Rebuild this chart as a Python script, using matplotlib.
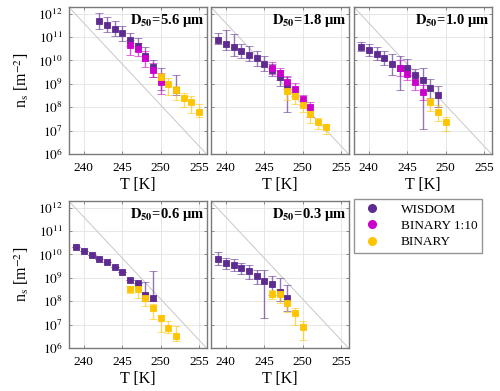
import matplotlib
matplotlib.use("Agg")
import matplotlib.pyplot as plt
import numpy as np
from matplotlib.lines import Line2D

plt.rcParams['font.family'] = ['Liberation Serif', 'DejaVu Serif']
plt.rcParams['mathtext.fontset'] = 'stix'

# ---------------- data ----------------
series_names = ["WISDOM", "BINARY 1:10", "BINARY"]
panel_titles = ["5.6", "1.8", "1.0", "0.6", "0.3"]
x_ticks = [240, 245, 250, 255]
y_ticks = [1e6, 1e7, 1e8, 1e9, 1e10, 1e11, 1e12]
y_tick_labels = [r"$10^{6}$", r"$10^{7}$", r"$10^{8}$", r"$10^{9}$",
                 r"$10^{10}$", r"$10^{11}$", r"$10^{12}$"]

# Panel 1: D50 = 5.6 um
p1_wis_T = [242, 243, 244, 245, 246, 247, 248, 249, 250, 252]
p1_wis_ns = [5.0e11, 3.2e11, 2.3e11, 1.45e11, 7.9e10, 4.0e10, 1.6e10, 5.5e9, 1.8e9, 5.5e8]
p1_wis_hi = [1.1e12, 7.2e11, 4.7e11, 3.1e11, 1.5e11, 9.1e10, 3.6e10, 1.07e10, 4.7e9, 2.5e9]
p1_wis_lo = [2.3e11, 1.7e11, 1.15e11, 6.5e10, 4.0e10, 2.5e10, 9.1e9, 2.0e9, 5.5e8, 3.2e8]
p1_b10_T = [246, 247, 248, 249, 250]
p1_b10_ns = [4.4e10, 3.0e10, 1.26e10, 3.9e9, 1.26e9]
p1_b10_hi = [7.8e10, 5.5e10, 2.5e10, 7.8e9, 2.9e9]
p1_b10_lo = [1.7e10, 1.6e10, 5.5e9, 2.0e9, 3.6e8]
p1_bin_T = [250, 251, 252, 253, 254, 255]
p1_bin_ns = [2.0e9, 1.0e9, 5.5e8, 2.6e8, 1.7e8, 6.2e7]
p1_bin_hi = [3.0e9, 1.8e9, 8.0e8, 4.0e8, 2.9e8, 1.4e8]
p1_bin_lo = [1.0e9, 3.4e8, 2.1e8, 1.0e8, 5.6e7, 3.7e7]

# Panel 2: D50 = 1.8 um
p2_wis_T = [239, 240, 241, 242, 243, 244, 245, 246, 247, 248]
p2_wis_ns = [7.9e10, 5.1e10, 3.6e10, 2.45e10, 1.74e10, 1.23e10, 6.9e9, 4.0e9, 1.9e9, 9.1e8]
p2_wis_hi = [1.5e11, 2.0e11, 1.35e11, 5.0e10, 4.0e10, 2.45e10, 1.5e10, 7.0e9, 4.0e9, 2.0e9]
p2_wis_lo = [5.0e10, 2.9e10, 1.6e10, 1.26e10, 9.1e9, 5.9e9, 3.7e9, 2.2e9, 7.8e8, 6.2e7]
p2_b10_T = [246, 247, 248, 249, 250, 251]
p2_b10_ns = [4.7e9, 2.9e9, 1.26e9, 5.8e8, 2.3e8, 9.8e7]
p2_b10_hi = [8.5e9, 5.0e9, 2.2e9, 1.1e9, 3.5e8, 1.6e8]
p2_b10_lo = [2.6e9, 1.4e9, 6.0e8, 3.0e8, 1.2e8, 4.0e7]
p2_bin_T = [248, 249, 250, 251, 252, 253]
p2_bin_ns = [5.0e8, 2.9e8, 1.26e8, 5.0e7, 2.45e7, 1.4e7]
p2_bin_hi = [7.0e8, 4.5e8, 2.0e8, 8.0e7, 3.5e7, 2.0e7]
p2_bin_lo = [2.0e8, 1.4e8, 6.0e7, 2.2e7, 1.2e7, 7.0e6]

# Panel 3: D50 = 1.0 um
p3_wis_T = [239, 240, 241, 242, 243, 244, 245, 246, 247, 248, 249]
p3_wis_ns = [3.7e10, 2.9e10, 1.86e10, 1.3e10, 7.4e9, 5.0e9, 5.0e9, 2.45e9, 1.4e9, 6.9e8, 3.4e8]
p3_wis_hi = [6.2e10, 5.0e10, 3.6e10, 2.5e10, 1.86e10, 1.6e10, 1.15e10, 4.5e9, 4.7e9, 1.6e9, 8.1e8]
p3_wis_lo = [2.45e10, 1.6e10, 1.0e10, 6.3e9, 2.45e9, 5.4e8, 2.45e9, 1.0e9, 1.2e7, 2.5e8, 1.0e8]
p3_b10_T = [244, 245, 246, 247]
p3_b10_ns = [5.0e9, 2.75e9, 1.26e9, 4.4e8]
p3_b10_hi = [1.0e10, 5.0e9, 2.5e9, 9.0e8]
p3_b10_lo = [2.2e9, 1.4e9, 5.5e8, 2.0e8]
p3_bin_T = [248, 249, 250]
p3_bin_ns = [1.74e8, 6.3e7, 2.3e7]
p3_bin_hi = [2.5e8, 1.2e8, 4.0e7]
p3_bin_lo = [7.0e7, 2.6e7, 9.8e6]

# Panel 4: D50 = 0.6 um
p4_wis_T = [239, 240, 241, 242, 243, 244, 245, 246, 247, 248, 249]
p4_wis_ns = [2.0e10, 1.38e10, 9.3e9, 6.5e9, 4.7e9, 2.95e9, 1.86e9, 7.9e8, 5.8e8, 1.8e8, 1.35e8]
p4_wis_hi = [2.0e10, 1.38e10, 9.3e9, 6.5e9, 4.7e9, 2.95e9, 1.86e9, 7.9e8, 5.8e8, 6.5e8, 2.0e9]
p4_wis_lo = [2.0e10, 1.38e10, 9.3e9, 6.5e9, 4.7e9, 2.95e9, 1.86e9, 7.9e8, 5.8e8, 1.0e8, 1.0e8]
p4_b10_T = []
p4_b10_ns = []
p4_b10_hi = []
p4_b10_lo = []
p4_bin_T = [246, 247, 248, 249, 250, 251, 252]
p4_bin_ns = [3.4e8, 3.4e8, 1.35e8, 4.9e7, 1.86e7, 7.4e6, 3.2e6]
p4_bin_hi = [4.5e8, 5.0e8, 2.0e8, 7.5e7, 2.5e7, 1.5e7, 9.1e6]
p4_bin_lo = [2.2e8, 1.35e8, 6.2e7, 1.7e7, 4.7e6, 4.5e6, 2.0e6]

# Panel 5: D50 = 0.3 um
p5_wis_T = [239, 240, 241, 242, 243, 244, 245, 246, 247, 248]
p5_wis_ns = [6.5e9, 4.4e9, 3.7e9, 2.75e9, 2.0e9, 1.17e9, 7.4e8, 5.4e8, 2.5e8, 1.35e8]
p5_wis_hi = [1.26e10, 7.4e9, 6.3e9, 4.5e9, 3.6e9, 2.2e9, 2.2e9, 1.2e9, 1.0e9, 5.0e8]
p5_wis_lo = [3.7e9, 2.3e9, 2.0e9, 1.5e9, 9.0e8, 5.5e8, 2.0e7, 1.8e8, 1.0e8, 4.0e7]
p5_b10_T = []
p5_b10_ns = []
p5_b10_hi = []
p5_b10_lo = []
p5_bin_T = [246, 247, 248, 249, 250]
p5_bin_ns = [2.1e8, 2.1e8, 8.5e7, 3.1e7, 7.9e6]
p5_bin_hi = [3.0e8, 3.2e8, 1.3e8, 5.0e7, 1.5e7]
p5_bin_lo = [1.2e8, 8.5e7, 3.6e7, 9.8e6, 2.3e6]

# reference diagonal (corner to corner)
diag_T = [238, 256]
diag_ns = [2e12, 1e6]

panels = [
    [(p1_wis_T, p1_wis_ns, p1_wis_lo, p1_wis_hi), (p1_b10_T, p1_b10_ns, p1_b10_lo, p1_b10_hi), (p1_bin_T, p1_bin_ns, p1_bin_lo, p1_bin_hi)],
    [(p2_wis_T, p2_wis_ns, p2_wis_lo, p2_wis_hi), (p2_b10_T, p2_b10_ns, p2_b10_lo, p2_b10_hi), (p2_bin_T, p2_bin_ns, p2_bin_lo, p2_bin_hi)],
    [(p3_wis_T, p3_wis_ns, p3_wis_lo, p3_wis_hi), (p3_b10_T, p3_b10_ns, p3_b10_lo, p3_b10_hi), (p3_bin_T, p3_bin_ns, p3_bin_lo, p3_bin_hi)],
    [(p4_wis_T, p4_wis_ns, p4_wis_lo, p4_wis_hi), (p4_b10_T, p4_b10_ns, p4_b10_lo, p4_b10_hi), (p4_bin_T, p4_bin_ns, p4_bin_lo, p4_bin_hi)],
    [(p5_wis_T, p5_wis_ns, p5_wis_lo, p5_wis_hi), (p5_b10_T, p5_b10_ns, p5_b10_lo, p5_b10_hi), (p5_bin_T, p5_bin_ns, p5_bin_lo, p5_bin_hi)],
]

colors = ["#5E2C91", "#CC00CC", "#FFC400"]

# ---------------- layout ----------------
W, H = 500, 391
fig = plt.figure(figsize=(W / 100, H / 100), dpi=100)
pw, ph = 138.0, 147.3
lefts = [68.5, 210.5, 353.5, 68.5, 210.5]
bottoms = [154, 154, 154, 348, 348]

frame_col = "#7a7a7a"
for i, pdata in enumerate(panels):
    ax = fig.add_axes([lefts[i] / W, 1 - bottoms[i] / H, pw / W, ph / H])
    ax.set_yscale("log")
    ax.set_xlim(238, 256)
    ax.set_ylim(1e6, 2e12)
    ax.plot(diag_T, diag_ns, color="#c8c8c8", lw=0.7, zorder=1)
    for (T, ns, lo, hi), c in zip(pdata, colors):
        if len(T) == 0:
            continue
        ns_a = np.array(ns)
        yerr = [ns_a - np.array(lo), np.array(hi) - ns_a]
        _, caps, bars = ax.errorbar(T, ns, yerr=yerr, fmt="s", color=c, ms=5.0,
                                    mec=c, mew=0.6, ecolor=c, elinewidth=1.0,
                                    capsize=3.2, capthick=1.0, zorder=3)
        for b in bars:
            b.set_alpha(0.65)
        for cp in caps:
            cp.set_alpha(0.65)
    ax.set_xticks(x_ticks)
    ax.set_yticks(y_ticks)
    ax.yaxis.set_minor_locator(matplotlib.ticker.NullLocator())
    if i in (0, 3):
        ax.set_yticklabels(y_tick_labels)
        ax.set_ylabel(r"n$_\mathrm{s}$ [m$^{-2}$]", fontsize=11.5, labelpad=5)
    else:
        ax.set_yticklabels([])
    ax.set_xlabel("T [K]", fontsize=11.5, labelpad=2)
    ax.grid(True, color="#e3e3e3", lw=0.6, zorder=0)
    ax.set_axisbelow(True)
    ax.tick_params(direction="in", length=2.5, width=0.6, top=True,
                   right=True, colors=frame_col, labelcolor="black",
                   labelsize=9.5)
    ax.tick_params(axis="x", pad=6)
    ax.tick_params(axis="y", pad=4)
    for sp in ax.spines.values():
        sp.set_color(frame_col)
        sp.set_linewidth(1.0)
    ax.text(0.985, 0.965, r"$\mathbf{D_{50}}$=" + panel_titles[i] + " µm",
            transform=ax.transAxes, ha="right", va="top", fontsize=10.5,
            fontweight="bold")

handles = [Line2D([], [], marker="o", ls="none", color=c, ms=5.5) for c in colors]
leg = fig.legend(handles, series_names, loc="upper left",
                 bbox_to_anchor=(354 / W, 1 - 199 / H), borderaxespad=0,
                 fontsize=9.5, frameon=True, fancybox=False,
                 edgecolor=frame_col, handlelength=2.0, handletextpad=1.2,
                 labelspacing=0.3, borderpad=0.35)
leg.get_frame().set_linewidth(1.0)

fig.savefig("out.png", dpi=100)
